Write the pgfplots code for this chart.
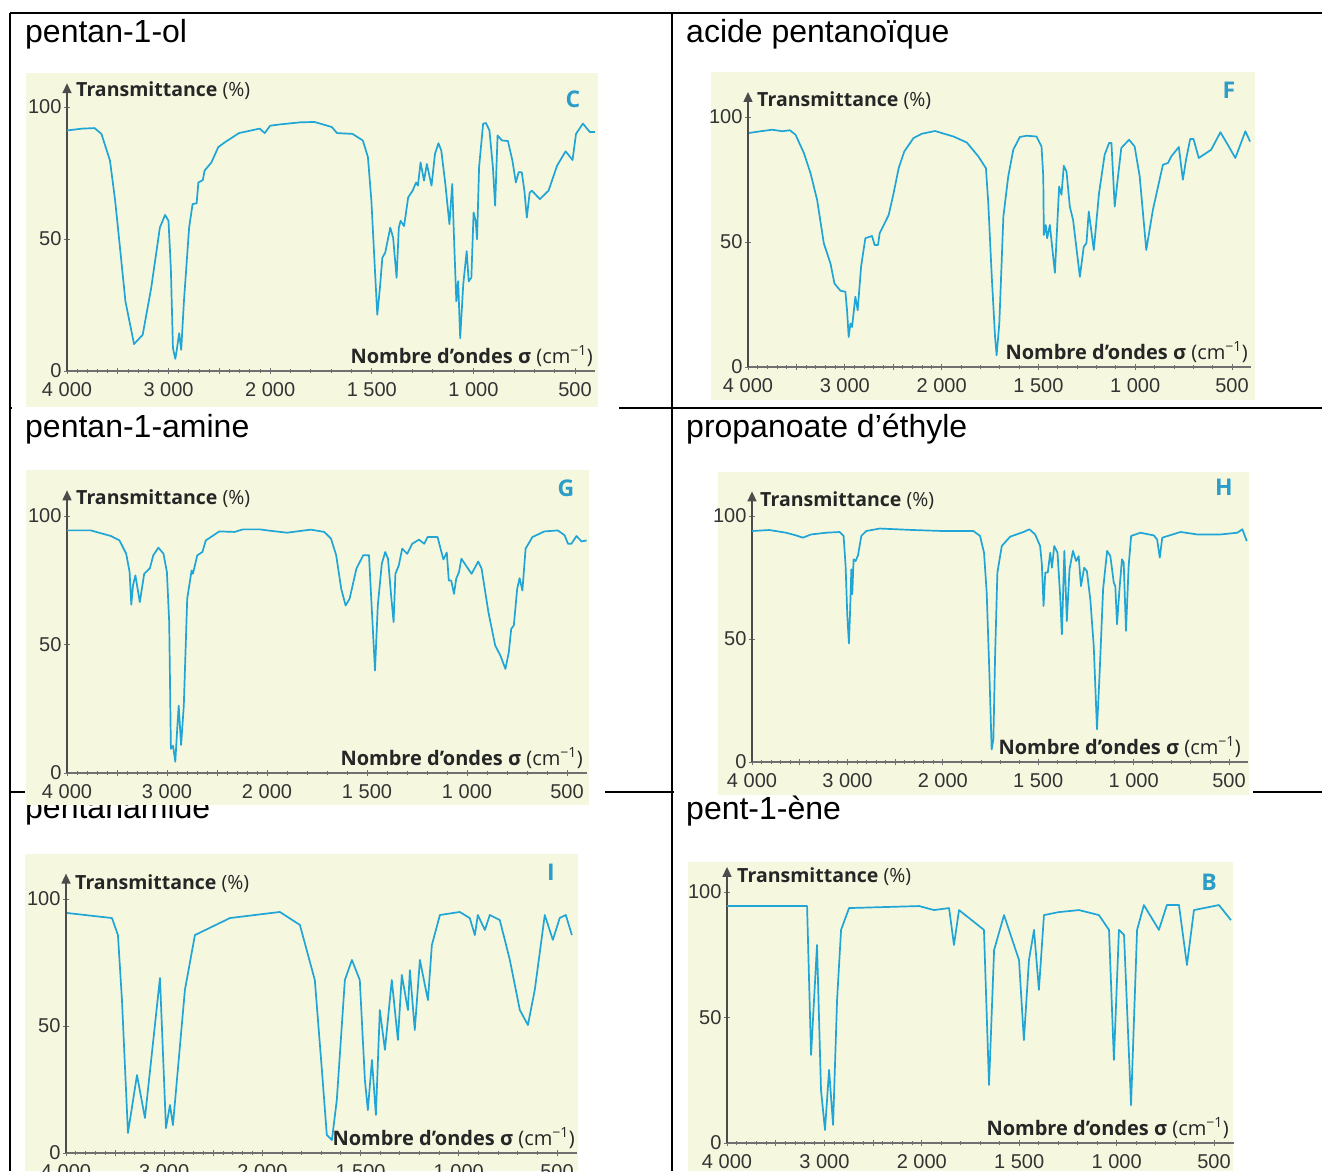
\documentclass[border=0pt]{standalone}
\usepackage{fontspec}
\setmainfont{Liberation Sans}
\newfontfamily\lab{Open Sans}
\usepackage{pgfplots}
\pgfplotsset{compat=1.18}
\usepackage{pgfplotstable}
\usetikzlibrary{arrows.meta}
\definecolor{bgy}{HTML}{F5F8DF}
\definecolor{irc}{HTML}{1FA5D6}
\definecolor{axg}{HTML}{707070}
\definecolor{lett}{HTML}{2B9DC8}

\pgfplotstableread{
s T
4000 91.1
3848 91.8
3729 92
3661 89.8
3577 79.7
3526 64.5
3475 45.4
3425 26.4
3340 10.2
3255 13.7
3171 31.5
3086 54.3
3035 59.1
3001 56.9
2978 39
2957 8.6
2934 4.6
2917 8.6
2896 14.3
2876 8
2849 26.4
2798 54.3
2764 63.2
2724 63.5
2707 71.4
2663 72.3
2646 75.9
2578 79
2511 84.8
2443 86.7
2307 90.1
2104 91.8
2054 90.1
2000 92.9
1951 93.4
1849 94.2
1781 94.3
1697 92.4
1671 90.1
1595 89.8
1544 87.3
1519 81
1502 64.5
1485 39
1473 21.3
1460 31.5
1448 42.9
1434 44.8
1409 54.3
1395 50.5
1378 35.3
1367 54.3
1358 56.9
1341 54.9
1321 65.7
1299 68.3
1282 71.4
1273 70.2
1260 79
1243 72.1
1229 78.4
1206 70.2
1189 82.2
1172 86.3
1158 83.5
1138 70.8
1118 55.6
1104 70.8
1096 51.8
1084 26.4
1075 34
1065 12.4
1050 32.7
1033 45.4
1023 34
1010 35.3
999 60
989 56.9
982 49.9
972 77.2
952 93.7
938 93.9
921 91.1
904 77.2
893 62.6
881 89.2
859 87.3
830 87.1
808 79.7
791 71.4
777 75.3
762 75.3
749 68.3
737 58.1
723 67.6
712 68.3
673 65.1
630 68.3
588 77.8
546 83.2
512 79.9
495 89.8
461 93.7
427 90.5
402 90.5
}\dC

\pgfplotstableread{
s T
3990 93.6
3870 94.3
3749 94.9
3646 94.3
3567 94.7
3509 92.9
3423 85.6
3354 77.5
3286 66.8
3217 49.5
3148 41.4
3107 33.4
3045 30.5
2994 30.1
2977 22.7
2960 12
2942 17.4
2925 16
2891 28.1
2867 22.7
2832 40.1
2788 51.5
2719 52.4
2692 48.8
2657 48.8
2640 53.5
2547 60.8
2496 69.5
2444 79.5
2386 86.2
2290 91.6
2204 93.3
2067 94.4
2000 93.6
1939 92.2
1870 89.8
1810 84.2
1771 79.5
1759 65.5
1741 36.1
1724 12
1716 4.7
1702 17.4
1681 60.2
1656 76.2
1630 86.9
1596 92
1561 92.5
1510 92.2
1484 88.2
1475 76.2
1472 52.8
1462 56.8
1455 51.5
1441 56.8
1415 37.7
1393 72.2
1381 68.9
1369 80.5
1355 78.2
1338 64.2
1321 58.8
1286 36.1
1266 48.1
1252 49.5
1240 62.2
1214 46.8
1187 69.5
1158 84.9
1135 89.6
1123 89.6
1106 64.2
1089 76.2
1072 87.6
1032 90.9
1003 88.2
977 76.2
943 46.8
909 62.8
857 80.9
831 81.6
814 84.2
775 88
754 74.9
737 83.2
716 91.2
699 91.2
672 83.6
608 86.9
560 93.9
522 88.9
483 83.6
431 94.3
407 90.2
}\dF

\pgfplotstableread{
s T
4000 94.4
3763 94.4
3560 92.2
3475 90.5
3408 85.3
3374 78.2
3357 65.5
3340 73
3316 76.9
3272 66.5
3228 77.5
3171 79.7
3137 84.7
3086 87.7
3035 85.3
3001 78.2
2978 58.7
2961 9.4
2940 10.6
2917 4.4
2900 15.8
2883 26.2
2859 10.9
2832 26.2
2798 67.8
2754 78.8
2741 77.5
2697 84.7
2646 86
2612 90.5
2477 94
2324 93.8
2240 94.8
2071 94.8
2000 94.4
1900 93.5
1781 94.7
1714 93.8
1680 91.2
1654 84.7
1629 71.7
1607 65.2
1587 67.8
1553 79.5
1519 84.7
1490 84.7
1477 65.2
1460 39.9
1446 65.2
1426 81.4
1409 86
1395 83.4
1378 67.8
1367 58.7
1358 77.5
1341 80.8
1324 87.3
1299 85.3
1274 89.2
1240 90.8
1214 89.2
1197 91.8
1147 91.8
1130 86.6
1118 83.1
1101 85.8
1091 74.9
1079 74.9
1065 69.7
1054 75.6
1040 78.2
1028 83.4
1011 81.4
977 77.5
944 82.3
927 79.5
893 62.6
859 49.6
833 45.7
808 40.5
791 47
779 56.1
766 57.4
749 71.7
737 75.8
723 71
707 87.3
673 91.8
613 94
546 94.4
512 92.5
495 89.2
478 89.2
453 92.2
427 90.1
402 90.5
}\dG

\pgfplotstableread{
s T
4000 93.9
3818 94.3
3643 93.2
3537 92.1
3467 91.2
3380 92.5
3222 93.2
3082 93.5
3040 91.9
3019 79.7
3001 59.3
2984 48.2
2970 63.4
2959 78.3
2949 68.2
2935 82.4
2914 81.7
2889 84
2854 91.9
2802 93.9
2661 94.9
2311 94.3
2000 93.9
1840 93.9
1805 91.9
1784 85.1
1770 68.8
1756 36.3
1744 5.1
1735 9.2
1726 43.1
1714 77
1691 87.8
1647 91.6
1577 93.5
1546 94.6
1516 92.5
1490 87.8
1481 80.4
1472 63.4
1463 77
1450 77
1437 85.1
1428 79
1416 87.8
1399 85.1
1385 67.5
1376 51.9
1363 85.8
1350 57.3
1336 78.3
1318 85.8
1301 81.7
1288 83.7
1276 71.5
1259 79
1245 77.6
1227 66.1
1209 47.2
1192 13.3
1178 36.3
1160 70.2
1139 85.8
1122 83.7
1104 72.9
1096 71.5
1087 56
1073 71.5
1061 82.4
1052 81
1040 53.3
1026 79.7
1013 91.9
964 93.2
894 92.1
877 90.5
863 83.1
850 91.2
754 93.5
667 92.5
544 92.5
456 93.2
430 94.6
407 89.8
}\dH

\pgfplotstableread{
s T
3990 94.5
3532 92.5
3471 85.8
3430 60.2
3369 7.9
3277 30.7
3196 13.8
3043 68.9
2982 9.8
2941 18.9
2911 11
2789 64.2
2687 85.8
2330 92.5
1911 94.9
1809 89.8
1733 68.1
1697 32.7
1672 7.1
1646 5.1
1621 20.9
1580 68.1
1544 76
1504 68.1
1478 28.7
1463 16.9
1442 36.6
1422 15
1402 56.3
1376 40.6
1341 68.1
1310 44.5
1290 70.1
1259 56.3
1249 72
1224 48.4
1198 76
1157 60.2
1137 81.9
1096 93.7
995 94.9
944 92.5
918 85.8
903 93.7
867 87.8
842 93.7
791 91.7
740 76
689 56.3
648 50.4
613 64.2
562 93.7
521 83.9
486 92.5
455 93.7
424 85.8
}\dI

\pgfplotstableread{
s T
4000 94.4
3178 94.4
3137 35.1
3076 78.9
3035 21.1
2994 5.2
2952 29.1
2911 7.2
2870 57
2829 84.9
2747 93.6
2028 94.4
1937 92.8
1860 93.6
1835 78.9
1809 92.8
1681 84.9
1655 23.1
1629 76.9
1578 90.8
1501 72.9
1476 41
1450 72.9
1424 84.9
1399 61
1373 90.8
1296 92
1193 92.8
1091 90.8
1039 84.9
1014 33.1
988 84.9
962 82.9
926 15.1
895 84.9
860 94.8
783 84.9
742 94.8
680 94.8
639 70.9
603 92.8
475 94.8
413 88.8
}\dB

\newcommand{\ux}{\thisrowno{0}>2000 ? (4000-\thisrowno{0})/2 : 3000-\thisrowno{0}}

\pgfplotsset{ir/.style={
  scale only axis, anchor=south west,
  xmin=0, xmax=2600, ymin=0,
  axis x line*=bottom, axis y line*=left,
  x axis line style={axg, line width=1.1pt},
  y axis line style={black!70, line width=1.5pt, -{Triangle[length=10pt,width=9pt]}},
  xtick={0,250,500,750,1000,1500,2000,2500},
  xticklabels={4 000,,3 000,,2 000,1 500,1 000,500},
  minor xtick={50,100,150,200,300,350,400,450,550,600,650,700,800,850,900,950,1100,1200,1300,1400,1600,1700,1800,1900,2100,2200,2300,2400},
  ytick={0,50,100}, yticklabels={0,50,100},
  tick align=center, major tick length=6pt, minor tick length=4pt,
  every tick/.style={axg, line width=0.9pt},
  minor tick style={axg, line width=0.9pt},
  tick label style={font=\fontsize{20}{21}\selectfont, text=black!80},
  xticklabel style={yshift=-5pt},
  yticklabel style={xshift=1pt},
  clip=false,
}}
\newcommand{\trans}[1]{\node[anchor=west, inner sep=0pt, text=black!85, font=\lab\fontsize{19.5}{21}\selectfont] at (#1) {\textbf{Transmittance} (\%)};}
\newcommand{\nomb}[1]{\node[anchor=east, inner sep=0pt, text=black!85, font=\lab\fontsize{20}{22}\selectfont] at (#1) {\textbf{Nombre d’ondes σ} (cm\textsuperscript{−1})};}
\newcommand{\lettre}[2]{\node[inner sep=0pt, text=lett, font=\lab\bfseries\fontsize{23}{24}\selectfont] at (#1) {#2};}
\newcommand{\ttl}[2]{\node[anchor=west, inner sep=0pt, font=\fontsize{32}{34}\selectfont] at (#1) {#2};}

\begin{document}
\begin{tikzpicture}[x=1pt,y=1pt]
\path (0pt,0pt) rectangle (1322pt,1171pt);
\begin{pgfinterruptboundingbox}
% table lines
\draw[line width=1.6pt] (10,1158) -- (1322,1158);
\draw[line width=1.6pt] (10,1158) -- (10,0);
\draw[line width=1.6pt] (672,1158) -- (672,0);
\draw[line width=1.6pt] (10,763) -- (1322,763);
\draw[line width=1.6pt] (10,379) -- (1322,379);
% titles
\ttl{25,1137}{pentan-1-ol}
\ttl{686,1137}{acide pentanoïque}
\ttl{25,742}{pentan-1-amine}
\ttl{686,742}{propanoate d’éthyle}
\ttl{25,361}{pentanamide}
\ttl{686,360}{pent-1-ène}
% panel backgrounds
\fill[white] (12,760) rectangle (619,1098);
\fill[bgy] (26,764) rectangle (598,1098);
\fill[bgy] (711,771) rectangle (1255,1099);
\fill[white] (25,366) rectangle (605,701);
\fill[bgy] (26,366) rectangle (589,701);
\fill[white] (674,376) rectangle (1253,699);
\fill[bgy] (718,376) rectangle (1249,699);
\fill[bgy] (25,0) rectangle (578,317);
\fill[bgy] (688,0) rectangle (1233,309);

% panel C
\begin{axis}[ir, at={(67pt,800pt)}, width=528.3pt, height=287.8pt, ymax=109]
\addplot[irc, line width=1.7pt, no marks, line join=round] table[x expr={\ux}, y index=1] {\dC};
\end{axis}
\trans{76,1080}\lettre{573,1072}{C}\nomb{593,815}

% panel F
\begin{axis}[ir, at={(748pt,804pt)}, width=503.4pt, height=275pt, ymax=110]
\addplot[irc, line width=1.7pt, no marks, line join=round] table[x expr={\ux}, y index=1] {\dF};
\end{axis}
\trans{757,1070}\lettre{1229,1081}{F}\nomb{1248,819}

% panel G
\begin{axis}[ir, at={(67pt,398pt)}, width=520pt, height=282.7pt, ymax=110]
\addplot[irc, line width=1.7pt, no marks, line join=round] table[x expr={\ux}, y index=1] {\dG};
\end{axis}
\trans{76,672}\lettre{566,683}{G}\nomb{583,413}

% panel H
\begin{axis}[ir, at={(752pt,409pt)}, width=496.1pt, height=270.6pt, ymax=110]
\addplot[irc, line width=1.7pt, no marks, line join=round] table[x expr={\ux}, y index=1] {\dH};
\end{axis}
\trans{760,670}\lettre{1224,684}{H}\nomb{1241,424}

% panel I
\begin{axis}[ir, at={(66pt,18pt)}, width=510.6pt, height=279.4pt, ymax=110]
\addplot[irc, line width=1.7pt, no marks, line join=round] table[x expr={\ux}, y index=1] {\dI};
\end{axis}
\trans{75,287}\lettre{551,299}{I}\nomb{575,33}

% panel B
\begin{axis}[ir, at={(727pt,28pt)}, width=506.5pt, height=276.1pt, ymax=110]
\addplot[irc, line width=1.7pt, no marks, line join=round] table[x expr={\ux}, y index=1] {\dB};
\end{axis}
\trans{737,294}\lettre{1209,289}{B}\nomb{1229,43}
\end{pgfinterruptboundingbox}
\end{tikzpicture}
\end{document}
